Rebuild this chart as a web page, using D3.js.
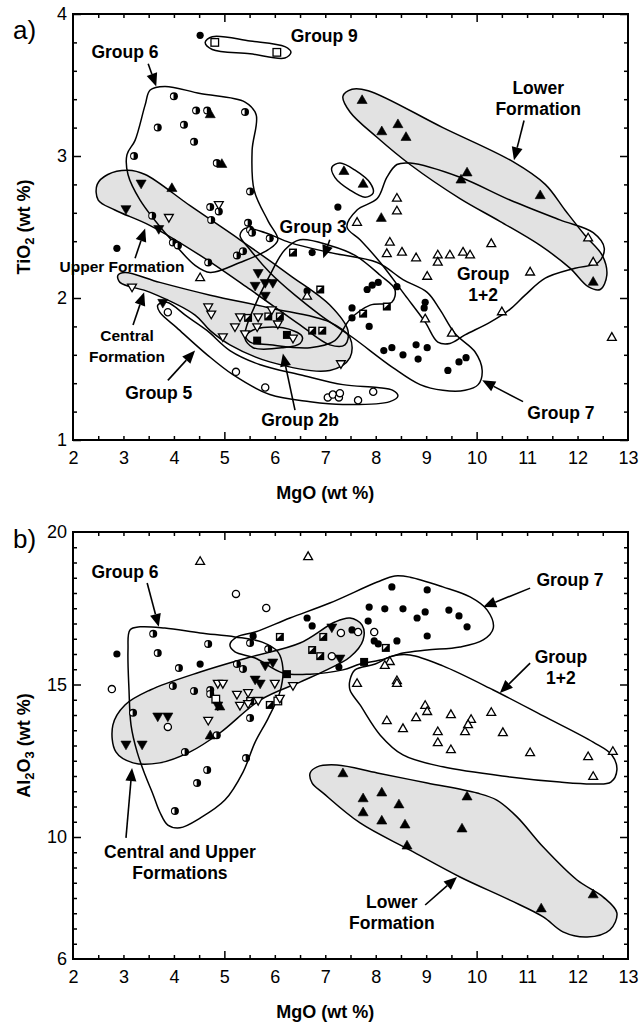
<!DOCTYPE html>
<html>
<head>
<meta charset="utf-8">
<script src="https://cdn.jsdelivr.net/npm/d3@7"></script>
<style>
  body { margin: 0; background: #fff; }
  text { font-family: "Liberation Sans", Arial, Helvetica, sans-serif; }
</style>
</head>
<body>
<svg id="chart" width="642" height="1024"></svg>
<script>
// ---------- shared axis values ----------
const mgoTicks = d3.range(2, 14);
const tiTicks = [1, 2, 3, 4];
const alTicks = [6, 10, 15, 20];

// ---------- panel a: TiO2 vs MgO ----------
const tiGroup9 = [[4.81, 3.80], [6.04, 3.73]];
const tiGroup7 = [[4.52, 3.85], [2.87, 2.35], [6.64, 2.05], [6.74, 2.32], [7.25, 2.64], [7.83, 2.06], [7.93, 2.09],
  [8.05, 2.11], [8.42, 2.08], [8.98, 1.97], [8.96, 1.93], [7.53, 1.93], [7.53, 1.86], [7.87, 1.80], [8.16, 1.63],
  [8.32, 1.65], [8.54, 1.60], [8.80, 1.67], [9.02, 1.65], [8.84, 1.57], [9.43, 1.49], [9.65, 1.55], [9.79, 1.58]];
const tiGroup6 = [[4.00, 3.42], [4.44, 3.32], [4.66, 3.32], [5.41, 3.31], [3.68, 3.20], [4.20, 3.22], [4.40, 3.10],
  [3.21, 3.00], [4.85, 2.95], [5.51, 2.75], [4.72, 2.64], [4.89, 2.61], [4.74, 2.55], [5.47, 2.53], [5.51, 2.48],
  [3.57, 2.58], [3.98, 2.39], [4.08, 2.37], [4.68, 2.25], [5.25, 2.30], [5.37, 2.33], [5.55, 2.46], [5.90, 2.42]];
const tiGroup5 = [[3.88, 1.90], [5.23, 1.48], [5.81, 1.37], [7.05, 1.30], [7.15, 1.32], [7.27, 1.30], [7.29, 1.33],
  [7.65, 1.28], [7.95, 1.34]];
const tiGroup3 = [[5.47, 1.86], [5.87, 1.87], [6.10, 1.87], [6.36, 2.32], [6.90, 2.06], [6.74, 1.77], [6.94, 1.77],
  [7.75, 1.89], [8.22, 1.94]];
const tiGroup2b = [[5.65, 1.70], [6.24, 1.74]];
const tiGroup12 = [[4.52, 2.14], [7.63, 2.53], [6.64, 2.01], [8.42, 2.70], [8.42, 2.61], [8.28, 2.39], [8.22, 2.31],
  [8.52, 2.32], [8.80, 2.28], [9.23, 2.30], [9.23, 2.25], [9.47, 2.30], [9.73, 2.32], [9.87, 2.30], [10.29, 2.38],
  [9.02, 2.15], [11.06, 2.18], [10.50, 1.90], [8.98, 1.85], [9.51, 1.75], [12.21, 2.42], [12.31, 2.25], [12.68, 1.72]];
const tiLower = [[4.72, 3.29], [4.95, 2.94], [3.96, 2.77], [7.73, 3.39], [8.12, 3.17], [8.44, 3.22], [8.60, 3.13],
  [9.81, 2.88], [9.69, 2.83], [11.26, 2.72], [7.37, 2.89], [7.75, 2.80], [8.11, 2.56], [12.31, 2.11]];
const tiCentral = [[4.89, 2.66], [3.90, 2.57], [3.17, 2.08], [4.68, 1.94], [4.74, 1.89], [4.97, 1.73], [5.21, 1.80],
  [5.41, 1.75], [5.31, 1.87], [5.67, 1.87], [5.65, 1.80], [5.94, 1.92], [6.06, 1.82], [6.36, 1.72], [7.31, 1.54]];
const tiUpper = [[3.35, 2.81], [3.05, 2.63], [3.70, 2.49], [3.78, 1.97], [5.61, 2.09], [5.81, 2.11], [5.96, 2.11],
  [5.81, 2.02], [5.67, 2.18]];

// envelopes (MgO, TiO2)
const tiEnvGroup9 = [[4.62, 3.80], [4.76, 3.84], [5.51, 3.81], [6.20, 3.77], [6.32, 3.73], [6.20, 3.69], [5.51, 3.72], [4.76, 3.75]];
const tiEnvGroup6 = [[3.53, 3.465], [3.82, 3.49], [4.52, 3.44], [5.41, 3.38], [5.63, 3.29], [5.55, 3.04], [5.59, 2.76],
  [5.87, 2.54], [6.06, 2.41], [5.87, 2.34], [5.31, 2.25], [4.72, 2.18], [4.42, 2.23], [3.92, 2.42], [3.33, 2.69],
  [3.09, 2.87], [3.07, 3.01], [3.23, 3.11], [3.43, 3.36]];
const tiEnvUpper = [[2.48, 2.80], [2.69, 2.87], [3.09, 2.90], [3.43, 2.87], [4.32, 2.65], [5.31, 2.41], [6.30, 2.16],
  [7.09, 1.95], [7.45, 1.77], [7.39, 1.67], [7.09, 1.67], [6.50, 1.81], [5.51, 2.06], [4.52, 2.30], [3.53, 2.51],
  [2.83, 2.62], [2.50, 2.69]];
const tiEnvCentral = [[2.89, 2.16], [3.03, 2.18], [3.72, 2.11], [4.72, 2.02], [5.90, 1.93], [7.09, 1.83], [7.49, 1.72],
  [7.49, 1.58], [7.09, 1.49], [5.90, 1.55], [5.11, 1.67], [4.72, 1.77], [4.42, 1.88], [3.53, 2.04], [2.93, 2.11]];
const tiEnvGroup5 = [[3.68, 1.95], [3.86, 1.97], [4.26, 1.87], [4.66, 1.77], [5.11, 1.63], [5.71, 1.53], [6.50, 1.46],
  [7.35, 1.39], [8.03, 1.37], [8.34, 1.35], [8.44, 1.31], [8.28, 1.27], [7.35, 1.25], [6.70, 1.27], [5.90, 1.32],
  [5.17, 1.46], [4.66, 1.60], [4.06, 1.79], [3.72, 1.90]];
const tiEnvGroup2b = [[5.41, 1.72], [5.57, 1.775], [6.16, 1.79], [6.54, 1.73], [6.50, 1.68], [6.16, 1.65], [5.57, 1.65]];
const tiEnvSmall = [[7.13, 2.92], [7.29, 2.95], [7.59, 2.90], [7.89, 2.81], [7.95, 2.74], [7.79, 2.71], [7.49, 2.76], [7.19, 2.85]];
const tiEnvLower = [[7.35, 3.42], [7.53, 3.47], [7.85, 3.46], [9.33, 3.20], [10.72, 2.96], [11.36, 2.80], [11.75, 2.62],
  [12.15, 2.44], [12.49, 2.30], [12.58, 2.16], [12.45, 2.06], [12.21, 2.08], [11.85, 2.21], [11.26, 2.37], [10.46, 2.54],
  [9.67, 2.70], [8.68, 2.94], [8.03, 3.13], [7.49, 3.31]];
const tiEnvGroup12 = [[7.43, 2.50], [7.63, 2.62], [8.03, 2.70], [8.22, 2.85], [8.42, 2.94], [8.68, 2.95], [9.67, 2.85],
  [10.66, 2.69], [11.65, 2.55], [12.31, 2.46], [12.53, 2.35], [12.41, 2.25], [11.95, 2.21], [11.36, 2.14], [10.96, 2.02],
  [10.66, 1.92], [10.27, 1.83], [9.77, 1.74], [9.47, 1.68], [9.23, 1.69], [8.98, 1.83], [8.58, 2.02], [8.09, 2.25], [7.69, 2.41]];
const tiEnvGroup7 = [[5.41, 2.49], [5.81, 2.46], [6.30, 2.39], [7.09, 2.32], [8.03, 2.25], [8.54, 2.13], [9.02, 2.04],
  [9.27, 1.92], [9.57, 1.75], [9.97, 1.62], [10.11, 1.49], [10.03, 1.39], [9.77, 1.35], [9.33, 1.35], [8.88, 1.39],
  [8.34, 1.51], [7.55, 1.72], [6.90, 1.88], [6.40, 2.02], [5.90, 2.18], [5.51, 2.34], [5.31, 2.44]];
const tiEnvGroup3 = [[5.41, 1.74], [5.61, 1.95], [5.90, 2.16], [6.20, 2.34], [6.50, 2.41], [7.09, 2.37], [7.59, 2.30],
  [8.09, 2.16], [8.38, 2.06], [8.32, 1.97], [7.89, 1.95], [7.49, 1.85], [7.19, 1.70], [6.70, 1.65], [5.90, 1.67], [5.51, 1.69]];

// annotations: text, MgO, TiO2 (baseline of first line)
const tiNotes = [
  ["Group 9", 6.98, 3.80], ["Group 6", 3.03, 3.69], ["Lower\nFormation", 11.22, 3.44], ["Group 3", 6.76, 2.46],
  ["Group\n1+2", 10.13, 2.13], ["Upper Formation", 2.97, 2.18], ["Central\nFormation", 3.07, 1.70],
  ["Group 5", 3.70, 1.29], ["Group 2b", 6.50, 1.10], ["Group 7", 11.67, 1.15]
];
// arrows: from MgO, from TiO2, to MgO, to TiO2
const tiArrows = [
  [3.49, 3.65, 3.65, 3.49], [10.94, 3.25, 10.74, 2.97], [7.09, 2.41, 6.96, 2.28], [3.23, 2.28, 3.43, 2.49],
  [3.19, 1.81, 3.41, 2.04], [3.88, 1.42, 4.42, 1.63], [6.40, 1.21, 6.16, 1.61], [10.92, 1.27, 10.11, 1.42]
];

// ---------- panel b: Al2O3 vs MgO ----------
const alGroup9 = [[4.83, 14.52], [6.06, 14.46]];
const alGroup7 = [[2.87, 16.00], [5.57, 16.59], [6.64, 17.18], [6.74, 16.92], [4.52, 15.67], [8.32, 18.20], [9.02, 18.10],
  [7.87, 17.54], [8.18, 17.48], [8.54, 17.48], [8.98, 17.38], [8.82, 17.18], [9.45, 17.44], [9.65, 17.25], [9.81, 16.89],
  [7.85, 17.08], [7.53, 16.79], [9.02, 16.59], [8.42, 16.43], [7.97, 16.43], [8.05, 16.33], [7.27, 15.57]];
const alGroup6 = [[3.59, 16.66], [3.68, 16.03], [4.68, 16.33], [4.10, 15.54], [3.98, 14.95], [4.40, 14.79], [4.72, 14.82],
  [4.72, 14.69], [5.25, 15.67], [5.37, 15.51], [5.51, 16.36], [5.87, 16.16], [3.19, 14.07], [5.51, 13.90], [4.85, 13.34],
  [4.22, 12.79], [4.66, 12.20], [4.46, 11.77], [4.02, 10.85], [5.43, 12.59]];
const alGroup5 = [[5.23, 17.97], [5.83, 17.51], [2.77, 14.85], [3.88, 13.61], [7.65, 16.72], [7.97, 16.72], [7.31, 16.69], [7.13, 15.93]];
const alGroup3 = [[5.51, 14.46], [5.90, 14.33], [6.10, 16.56], [6.96, 16.56], [6.74, 16.13], [6.90, 15.93], [8.20, 16.20]];
const alGroup2b = [[6.24, 15.34], [7.77, 15.74]];
const alGroup12 = [[4.52, 19.02], [6.66, 19.18], [7.63, 15.02], [8.28, 15.74], [8.18, 15.61], [8.42, 15.11], [8.42, 15.02],
  [8.22, 13.80], [8.54, 13.54], [8.80, 13.90], [8.98, 14.30], [9.02, 14.10], [9.23, 13.44], [9.23, 13.08], [9.49, 14.00],
  [9.89, 13.84], [9.83, 13.67], [9.77, 13.44], [10.29, 14.07], [10.52, 13.41], [9.49, 12.85], [11.06, 12.75],
  [12.21, 12.62], [12.70, 12.79], [12.31, 11.97]];
const alLower = [[7.35, 12.07], [7.75, 11.25], [7.75, 10.79], [8.12, 11.44], [8.12, 10.52], [8.46, 11.05], [8.58, 10.39],
  [8.62, 9.70], [9.71, 10.26], [9.81, 11.31], [12.31, 8.10], [11.28, 7.64], [4.91, 14.26], [4.72, 13.31]];
const alCentral = [[4.87, 15.05], [4.97, 15.05], [4.68, 13.84], [5.25, 14.69], [5.47, 14.75], [5.67, 14.49], [6.00, 15.05],
  [6.36, 14.98], [5.31, 14.33], [6.10, 14.56], [5.47, 14.39]];
const alUpper = [[5.81, 15.64], [5.96, 15.74], [5.61, 15.18], [5.71, 15.05], [3.68, 13.97], [3.88, 13.97], [3.05, 13.05],
  [3.37, 13.05], [4.87, 14.33], [7.13, 16.89], [7.29, 15.87]];

const alEnvGroup6 = [[3.13, 16.79], [3.33, 16.89], [3.82, 16.85], [4.52, 16.69], [5.21, 16.56], [5.75, 16.39], [6.06, 16.07],
  [6.16, 15.54], [6.10, 14.75], [5.87, 13.90], [5.61, 13.11], [5.37, 12.13], [5.01, 11.21], [4.52, 10.62], [4.12, 10.30],
  [3.88, 10.39], [3.72, 10.82], [3.59, 11.38], [3.43, 12.03], [3.27, 12.79], [3.15, 13.67], [3.11, 14.82], [3.09, 16.13]];
const alEnvCentralUpper = [[2.79, 13.67], [3.03, 14.33], [3.53, 14.82], [4.52, 15.41], [5.51, 15.90], [6.50, 16.36],
  [7.19, 17.05], [7.49, 17.18], [7.73, 16.95], [7.75, 16.46], [7.49, 15.90], [7.03, 15.48], [6.50, 15.08], [5.71, 14.49],
  [4.91, 13.41], [4.32, 12.79], [3.72, 12.43], [3.19, 12.43], [2.85, 12.79]];
const alEnvGroup7 = [[5.11, 16.30], [5.25, 16.56], [5.61, 16.72], [6.30, 17.18], [7.09, 17.67], [8.03, 18.36], [8.38, 18.56],
  [8.68, 18.52], [9.33, 18.20], [9.87, 17.87], [10.21, 17.44], [10.33, 16.85], [10.13, 16.46], [9.67, 16.23], [9.02, 16.13],
  [8.54, 16.03], [8.09, 15.80], [7.69, 15.67], [7.35, 15.48], [6.70, 15.34], [6.16, 15.38], [5.61, 15.87], [5.21, 16.07]];
const alEnvGroup12 = [[7.49, 15.15], [7.59, 15.48], [7.99, 15.67], [8.32, 15.93], [8.68, 15.97], [9.33, 15.61], [10.33, 14.82],
  [11.32, 13.97], [12.31, 13.11], [12.68, 12.69], [12.78, 12.20], [12.66, 11.80], [12.31, 11.74], [11.65, 11.80],
  [10.66, 11.97], [9.33, 12.30], [8.54, 12.69], [8.09, 13.34], [7.69, 14.33], [7.49, 14.82]];
const alEnvLower = [[6.70, 12.10], [6.84, 12.30], [7.23, 12.36], [8.03, 12.10], [9.02, 11.77], [10.01, 11.44], [10.40, 11.21],
  [10.80, 10.66], [11.32, 9.67], [11.99, 8.59], [12.51, 8.03], [12.78, 7.51], [12.64, 6.95], [12.19, 6.72], [11.71, 6.89],
  [11.32, 7.38], [10.66, 7.93], [9.67, 8.69], [8.68, 9.57], [7.69, 10.46], [6.96, 11.44], [6.74, 11.77]];

const alNotes = [
  ["Group 6", 3.03, 18.49], ["Group 7", 11.85, 18.23], ["Group\n1+2", 11.67, 15.70],
  ["Central and Upper\nFormations", 4.12, 9.31], ["Lower\nFormation", 8.32, 7.67]
];
const alArrows = [
  [3.47, 18.33, 3.70, 16.89], [11.06, 18.16, 10.13, 17.54], [11.06, 15.70, 10.46, 14.72],
  [3.05, 9.97, 3.17, 12.26], [8.98, 7.77, 9.61, 8.69]
];

// ---------- drawing ----------
const svg = d3.select("#chart");
const x = d3.scaleLinear().domain([2, 13]).range([73, 628]);
const smallNotes = new Set(["Upper Formation", "Central\nFormation"]);

function mark(g, kind, px, py) {
  const s = g.append("g").attr("transform", `translate(${px},${py})`);
  if (kind === "fc") s.append("circle").attr("r", 3.6).attr("fill", "#000");
  else if (kind === "oc") s.append("circle").attr("r", 3.6).attr("fill", "#fff").attr("stroke", "#000").attr("stroke-width", 1.3);
  else if (kind === "hc") {
    s.append("circle").attr("r", 4).attr("fill", "#000");
    s.append("path").attr("d", "M-0.4,-2.6A2.6,2.6 0 0 0 -0.4,2.6Z").attr("fill", "#fff");
  } else if (kind === "os") {
    s.append("rect").attr("x", -3.8).attr("y", -3.8).attr("width", 7.6).attr("height", 7.6)
      .attr("fill", "#fff").attr("stroke", "#000").attr("stroke-width", 1.3);
  } else if (kind === "hs") {
    s.append("rect").attr("x", -4).attr("y", -4).attr("width", 8).attr("height", 8).attr("fill", "#000");
    s.append("path").attr("d", "M-2.6,-2.6L1.8,-2.6L-2.6,1.8Z").attr("fill", "#fff");
  } else if (kind === "fs") {
    s.append("rect").attr("x", -4).attr("y", -4).attr("width", 8).attr("height", 8).attr("fill", "#000");
  } else {
    const open = kind[0] === "o";
    const down = kind.slice(1) === "dt";
    s.append("path")
      .attr("d", d3.symbol(d3.symbolTriangle, open ? 34 : 44)())
      .attr("transform", down ? "rotate(180)" : null)
      .attr("fill", open ? "#fff" : "#000")
      .attr("stroke", "#000").attr("stroke-width", open ? 1.3 : 0.6);
  }
}

function arrow(g, x1, y1, x2, y2) {
  const ang = Math.atan2(y2 - y1, x2 - x1), len = 13, half = 5.5;
  const bx = x2 - len * Math.cos(ang), by = y2 - len * Math.sin(ang);
  g.append("line").attr("x1", x1).attr("y1", y1).attr("x2", bx).attr("y2", by)
    .attr("stroke", "#000").attr("stroke-width", 1.6);
  const px = -Math.sin(ang) * half, py = Math.cos(ang) * half;
  g.append("path")
    .attr("d", `M${x2},${y2}L${bx + px},${by + py}L${bx - px},${by - py}Z`)
    .attr("fill", "#000");
}

function drawPanel(opt) {
  const y = d3.scaleLinear().domain(opt.domain).range([opt.bottom, opt.top]);
  const g = svg.append("g");
  const curve = d3.line().x(d => x(d[0])).y(d => y(d[1])).curve(d3.curveCatmullRomClosed.alpha(0.5));

  opt.envelopes.filter(e => e.gray).forEach(e =>
    g.append("path").attr("d", curve(e.pts)).attr("fill", "#e2e2e2"));
  opt.envelopes.forEach(e =>
    g.append("path").attr("d", curve(e.pts)).attr("fill", "none").attr("stroke", "#000").attr("stroke-width", 1.5));

  const pts = g.append("g");
  opt.series.forEach(s => s.data.forEach(d => mark(pts, s.kind, x(d[0]), y(d[1]))));

  // annotations
  opt.notes.forEach(n => {
    const lines = n[0].split("\n");
    const t = g.append("text").attr("text-anchor", "middle")
      .attr("font-weight", "bold").attr("font-size", smallNotes.has(n[0]) ? 15.5 : 17.5);
    lines.forEach((l, i) => t.append("tspan").attr("x", x(n[1])).attr("y", y(n[2]) + i * 21).text(l));
  });
  opt.arrows.forEach(a => arrow(g, x(a[0]), y(a[1]), x(a[2]), y(a[3])));

  // ticks on all four sides, pointing inward
  const xMinor = d3.range(2.5, 13, 0.5).filter(v => v % 5 !== 0);
  const xMajor = [5, 10];
  const clean = sel => sel.call(a => a.select(".domain").remove());
  [[d3.axisBottom, opt.bottom], [d3.axisTop, opt.top]].forEach(([ax, pos]) => {
    g.append("g").attr("transform", `translate(0,${pos})`)
      .call(ax(x).tickValues(xMinor).tickSize(-4).tickFormat("")).call(clean);
    g.append("g").attr("transform", `translate(0,${pos})`)
      .call(ax(x).tickValues(xMajor).tickSize(-8).tickFormat("")).call(clean);
  });
  [[d3.axisLeft, 73], [d3.axisRight, 628]].forEach(([ax, pos]) => {
    g.append("g").attr("transform", `translate(${pos},0)`)
      .call(ax(y).tickValues(opt.yMinor).tickSize(-4).tickFormat("")).call(clean);
    g.append("g").attr("transform", `translate(${pos},0)`)
      .call(ax(y).tickValues(opt.yMajor).tickSize(-8).tickFormat("")).call(clean);
  });
  g.selectAll(".tick line").attr("stroke", "#000").attr("stroke-width", 1.5);

  const xl = g.append("g").attr("transform", `translate(0,${opt.bottom})`)
    .call(d3.axisBottom(x).tickValues(mgoTicks).tickSize(0).tickPadding(11).tickFormat(d3.format("d"))).call(clean);
  const yl = g.append("g").attr("transform", "translate(73,0)")
    .call(d3.axisLeft(y).tickValues(opt.yLabels).tickSize(0).tickPadding(6).tickFormat(d3.format("d"))).call(clean);
  [xl, yl].forEach(a => a.selectAll("text").attr("font-size", 18).attr("fill", "#000")
    .attr("font-family", '"Liberation Sans", Arial, sans-serif'));

  g.append("rect").attr("x", 73).attr("y", opt.top).attr("width", 555).attr("height", opt.bottom - opt.top)
    .attr("fill", "none").attr("stroke", "#000").attr("stroke-width", 2);

  // titles
  g.append("text").attr("x", x(7)).attr("y", opt.bottom + 59).attr("text-anchor", "middle")
    .attr("font-weight", "bold").attr("font-size", 18).text("MgO (wt %)");
  const yt = g.append("text").attr("transform", `translate(30,${(opt.top + opt.bottom) / 2}) rotate(-90)`)
    .attr("text-anchor", "middle").attr("font-weight", "bold").attr("font-size", 18);
  opt.yTitle.forEach(p => {
    const ts = yt.append("tspan").text(p[0]);
    if (p[1]) ts.attr("font-size", 13).attr("dy", 4);
    else if (p[2]) ts.attr("dy", -4);
  });
  g.append("text").attr("x", 13).attr("y", opt.top + opt.labelDy).attr("font-size", 26).text(opt.label);
}

drawPanel({
  domain: [1, 4], top: 14, bottom: 440, label: "a)", labelDy: 25,
  yLabels: tiTicks, yMajor: tiTicks, yMinor: d3.range(1.2, 4, 0.2).filter(v => Math.abs(v - Math.round(v)) > 0.01),
  yTitle: [["TiO"], ["2", true], [" (wt %)", false, true]],
  envelopes: [
    { pts: tiEnvUpper, gray: true }, { pts: tiEnvCentral, gray: true }, { pts: tiEnvLower, gray: true },
    { pts: tiEnvGroup9 }, { pts: tiEnvGroup6 }, { pts: tiEnvGroup5 }, { pts: tiEnvGroup2b }, { pts: tiEnvSmall },
    { pts: tiEnvGroup12 }, { pts: tiEnvGroup7 }, { pts: tiEnvGroup3 }
  ],
  series: [
    { data: tiGroup7, kind: "fc" }, { data: tiGroup6, kind: "hc" }, { data: tiGroup5, kind: "oc" },
    { data: tiGroup9, kind: "os" }, { data: tiGroup3, kind: "hs" }, { data: tiGroup2b, kind: "fs" },
    { data: tiGroup12, kind: "out" }, { data: tiLower, kind: "fut" }, { data: tiCentral, kind: "odt" },
    { data: tiUpper, kind: "fdt" }
  ],
  notes: tiNotes, arrows: tiArrows
});

drawPanel({
  domain: [6, 20], top: 532, bottom: 959, label: "b)", labelDy: 16,
  yLabels: alTicks, yMajor: [10, 15], yMinor: d3.range(6.5, 20, 0.5).filter(v => v % 5 !== 0),
  yTitle: [["Al"], ["2", true], ["O", false, true], ["3", true], [" (wt %)", false, true]],
  envelopes: [
    { pts: alEnvCentralUpper, gray: true }, { pts: alEnvLower, gray: true },
    { pts: alEnvGroup6 }, { pts: alEnvGroup7 }, { pts: alEnvGroup12 }
  ],
  series: [
    { data: alGroup7, kind: "fc" }, { data: alGroup6, kind: "hc" }, { data: alGroup5, kind: "oc" },
    { data: alGroup9, kind: "os" }, { data: alGroup3, kind: "hs" }, { data: alGroup2b, kind: "fs" },
    { data: alGroup12, kind: "out" }, { data: alLower, kind: "fut" }, { data: alCentral, kind: "odt" },
    { data: alUpper, kind: "fdt" }
  ],
  notes: alNotes, arrows: alArrows
});
</script>
</body>
</html>
